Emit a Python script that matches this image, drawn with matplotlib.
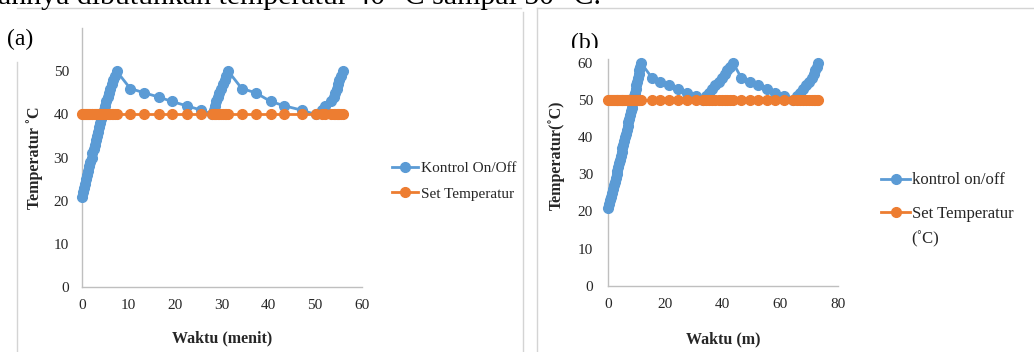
import matplotlib
matplotlib.use("Agg")
import matplotlib.pyplot as plt
from matplotlib.lines import Line2D
from matplotlib.patches import Rectangle

# ---------------- data ----------------
# Panel (a): setpoint 40 °C
time_a = [0.0, 0.2, 0.4, 0.7, 0.9, 1.1, 1.3, 1.6, 1.8, 2.1, 2.3, 2.6, 2.8, 3.0, 3.2,
          3.5, 3.8, 4.0, 4.2, 4.4, 4.7, 5.0, 5.3, 5.6, 5.9, 6.1, 6.5, 6.8, 7.1, 7.5,
          10.4, 13.4, 16.6, 19.3, 22.5, 25.6, 28.0,
          28.3, 28.6, 28.8, 29.1, 29.5, 29.8, 30.2, 30.6, 31.0, 31.4,
          34.3, 37.3, 40.5, 43.4, 47.1, 50.1,
          51.4, 52.1, 53.5, 54.0, 54.3, 54.6, 54.9, 55.2, 55.5, 55.9]
kontrol_a = [21, 22, 23, 24, 25, 26, 27, 28, 29, 30, 31, 32, 33, 34, 35,
             36, 37, 38, 39, 40, 41, 42, 43, 44, 45, 46, 47, 48, 49, 50,
             46, 45, 44, 43, 42, 41, 40,
             41, 42, 43, 44, 45, 46, 47, 48, 49, 50,
             46, 45, 43, 42, 41, 40,
             41, 42, 43, 44, 45, 46, 47, 48, 49, 50]
set_a = [40] * len(time_a)

# Panel (b): setpoint 50 °C
time_b = [0.0, 0.5, 0.8, 1.2, 1.5, 1.8, 2.1, 2.5, 2.8, 3.1, 3.4, 3.7, 4.0, 4.3, 4.5,
          4.8, 5.1, 5.4, 5.7, 6.0, 6.3, 6.6, 6.9, 7.2, 7.5, 7.8, 8.0, 8.3, 8.6, 8.9,
          9.2, 9.5, 9.7, 10.0, 10.2, 10.5, 10.8, 11.0, 11.3, 11.6,
          15.4, 18.3, 21.4, 24.5, 27.6, 30.6, 33.2,
          34.2, 35.3, 36.3, 37.4, 38.5, 39.6, 40.6, 41.6, 42.6, 43.6,
          46.4, 49.6, 52.1, 55.2, 58.2, 61.1, 64.3,
          65.6, 66.8, 68.0, 69.0, 70.0, 70.8, 71.5, 72.1, 72.6, 73.1]
kontrol_b = [21, 22, 23, 24, 25, 26, 27, 28, 29, 30, 31, 32, 33, 34, 35,
             36, 37, 38, 39, 40, 41, 42, 43, 44, 45, 46, 47, 48, 49, 50,
             51, 52, 53, 54, 55, 56, 57, 58, 59, 60,
             56, 55, 54, 53, 52, 51, 50,
             51, 52, 53, 54, 55, 56, 57, 58, 59, 60,
             56, 55, 54, 53, 52, 51, 50,
             51, 52, 53, 54, 55, 56, 57, 58, 59, 60]
set_b = [50] * len(time_b)

yticks_a = [0, 10, 20, 30, 40, 50]
xticks_a = [0, 10, 20, 30, 40, 50, 60]
yticks_b = [0, 10, 20, 30, 40, 50, 60]
xticks_b = [0, 20, 40, 60, 80]

# ---------------- style ----------------
BLUE = "#5B9BD5"
ORANGE = "#ED7D31"
SPINE = "#BFBFBF"
FRAME = "#D4D4D4"
TXT = "#262626"
SERIF = ["Liberation Serif", "DejaVu Serif"]
plt.rcParams["font.family"] = SERIF

W, H = 1034, 352
fig = plt.figure(figsize=(W / 100, H / 100), dpi=100)
fig.patch.set_facecolor("white")

TICK_FS = 11
LEG_FS_A = 11
LEG_FS_B = 12
LAB_FS = 11.5
MS = 7
LW = 2.0


def fx(px):
    return px / W


def fy(py):
    return 1 - py / H


def style_axes(ax, xlim, ylim, xt, yt, xpad, ypad):
    ax.set_xlim(*xlim)
    ax.set_ylim(*ylim)
    ax.set_xticks(xt)
    ax.set_yticks(yt)
    for s in ("top", "right"):
        ax.spines[s].set_visible(False)
    for s in ("left", "bottom"):
        ax.spines[s].set_color(SPINE)
        ax.spines[s].set_linewidth(1.0)
    ax.tick_params(axis="x", length=0, pad=xpad, labelsize=TICK_FS, labelcolor=TXT)
    ax.tick_params(axis="y", length=0, pad=ypad, labelsize=TICK_FS, labelcolor=TXT)
    ax.patch.set_alpha(0)


# ---------------- panel (a) ----------------
axA = fig.add_axes([fx(81.7), 1 - 287.3 / H, 280 / W, 259.3 / H])
la, = axA.plot(time_a, kontrol_a, color=BLUE, lw=LW, marker="o", ms=MS,
               mec=BLUE, mfc=BLUE, clip_on=False, zorder=3, label="Kontrol On/Off")
lb, = axA.plot(time_a, set_a, color=ORANGE, lw=LW, marker="o", ms=MS,
               mec=ORANGE, mfc=ORANGE, clip_on=False, zorder=4, label="Set Temperatur")
style_axes(axA, (0, 60), (0, 60), xticks_a, yticks_a, 8.5, 9.2)
axA.set_xlabel("Waktu (menit)", fontsize=LAB_FS, fontweight="bold", color=TXT)
axA.set_ylabel("Temperatur ˚C", fontsize=LAB_FS, fontweight="bold", color=TXT)
axA.xaxis.set_label_coords(0.5, -0.165)
axA.yaxis.set_label_coords(-0.137, 0.5)
axA.legend(handles=[la, lb], loc="upper left",
           bbox_to_anchor=(fx(392), fy(161.5)), bbox_transform=fig.transFigure,
           frameon=False, fontsize=LEG_FS_A, borderpad=0, borderaxespad=0,
           handlelength=1.7, handletextpad=0.22, labelspacing=0.78,
           labelcolor=TXT)

# ---------------- panel (b) ----------------
axB = fig.add_axes([fx(607.7), 1 - 285.7 / H, 230.3 / W, 226.4 / H])
lc, = axB.plot(time_b, kontrol_b, color=BLUE, lw=LW, marker="o", ms=MS,
               mec=BLUE, mfc=BLUE, clip_on=False, zorder=3, label="kontrol on/off")
ld, = axB.plot(time_b, set_b, color=ORANGE, lw=LW, marker="o", ms=MS,
               mec=ORANGE, mfc=ORANGE, clip_on=False, zorder=4, label="Set Temperatur")
style_axes(axB, (0, 80), (0, 61), xticks_b, yticks_b, 8.5, 10.5)
axB.set_xlabel("Waktu (m)", fontsize=LAB_FS, fontweight="bold", color=TXT)
axB.set_ylabel("Temperatur(˚C)", fontsize=LAB_FS, fontweight="bold", color=TXT)
axB.xaxis.set_label_coords(0.5, -0.203)
axB.yaxis.set_label_coords(-0.185, 0.577)
axB.legend(handles=[lc, ld], loc="upper left",
           bbox_to_anchor=(fx(881), fy(172.5)), bbox_transform=fig.transFigure,
           frameon=False, fontsize=LEG_FS_B, borderpad=0, borderaxespad=0,
           handlelength=1.75, handletextpad=0.1, labelspacing=1.05,
           labelcolor=TXT)
fig.text(fx(911.7), fy(239), "(˚C)", fontsize=LEG_FS_B, color=TXT, va="center", ha="left")

# ---------------- document decorations ----------------
fig.text(fx(-2), fy(4), "ahnya dibutuhkan temperatur 40 °C sampai 50 °C.",
         fontsize=21.5, color="black", va="baseline", ha="left")


def hline(x0, x1, y):
    fig.add_artist(Line2D([fx(x0), fx(x1)], [fy(y), fy(y)], transform=fig.transFigure,
                          color=FRAME, lw=1.0))


def vline(x, y0, y1):
    fig.add_artist(Line2D([fx(x), fx(x)], [fy(y0), fy(y1)], transform=fig.transFigure,
                          color=FRAME, lw=1.0))


hline(17, 521, 8.3)
vline(17, 61.7, 352)
vline(523, 12, 352)
hline(537, 1034, 8.3)
vline(537, 8.3, 352)

fig.text(fx(7), fy(39), "(a)", fontsize=17, color="black", va="center", ha="left")
fig.text(fx(571), fy(43), "(b)", fontsize=17, color="black", va="center", ha="left",
         zorder=3)
cover = Rectangle((fx(560), fy(57)), fx(60), 9.5 / H, transform=fig.transFigure,
                  facecolor="white", edgecolor="none", zorder=3.5)
fig.add_artist(cover)

fig.savefig("out.png", dpi=100, facecolor="white")
